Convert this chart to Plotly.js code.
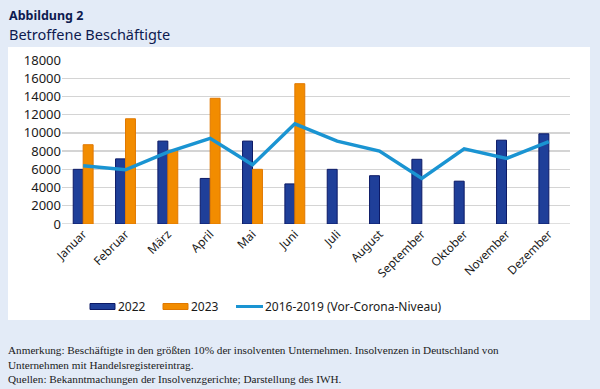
<!DOCTYPE html>
<html><head><meta charset="utf-8">
<script src="https://cdn.plot.ly/plotly-3.0.1.min.js"></script>
<style>body{margin:0;padding:0;background:#e3ebf7}#c{width:600px;height:389px}</style>
</head><body><div id="c"></div>
<script>
const months = ["Januar","Februar","März","April","Mai","Juni","Juli","August","September","Oktober","November","Dezember"];
const v2022 = [6000,7150,9100,5000,9100,4400,6000,5300,7100,4700,9200,9900];
const v2023 = [8700,11550,8100,13800,6000,15400,null,null,null,null,null,null];
const vBase = [6400,5950,7900,9400,6500,11000,9100,8000,5000,8250,7200,9050];
const yTicks = [0,2000,4000,6000,8000,10000,12000,14000,16000,18000];
const seriesNames = ["2022","2023","2016-2019 (Vor-Corona-Niveau)"];

const C22 = '#1f3f99', C23 = '#f28c00', CB = '#1a94d2';
const traces = [
  {type:'bar', name:seriesNames[0], x:months, y:v2022, marker:{color:C22, line:{color:'#0c1a66', width:1}}},
  {type:'bar', name:seriesNames[1], x:months, y:v2023, marker:{color:C23, line:{color:'#e07800', width:1}}},
  {type:'scatter', mode:'lines', name:seriesNames[2], x:months, y:vBase, line:{color:CB, width:3.5}}
];

// pixel -> paper helpers (plot area: x 62..570, y 60..224)
const px = p => (p-62)/508;
const py = p => (224-p)/164;

const font = {family:'Noto Sans, sans-serif', color:'#1a1a1a'};
const legFont = {size:12, family:'Noto Sans, sans-serif', color:'#1a1a1a'};
const noteFont = {size:11.2, color:'#1a1a1a', family:'Liberation Serif, serif'};
const ly = 306.5;
const layout = {
  width:600, height:389,
  paper_bgcolor:'#e3ebf7', plot_bgcolor:'rgba(0,0,0,0)',
  margin:{l:62, r:30, t:60, b:165},
  barmode:'group', bargap:0.53, bargroupgap:0,
  font:font,
  showlegend:false,
  xaxis:{tickangle:-45, tickfont:{size:11.8}, showgrid:false, showline:false, zeroline:false, ticks:''},
  yaxis:{range:[0,18000], tickvals:yTicks, ticktext:yTicks.map(String), tickfont:{size:13}, gridcolor:'#d4d4d4', gridwidth:1.3, zeroline:false, showline:false, ticks:'', ticklen:0},
  shapes:[
    {type:'rect', xref:'paper', yref:'paper', x0:px(8), x1:px(590), y0:py(320), y1:py(47), fillcolor:'#ffffff', line:{width:0}, layer:'below'},
    {type:'line', xref:'paper', yref:'y', x0:0, x1:1, y0:0, y1:0, line:{color:'#d4d4d4', width:1.3}, layer:'below'},
    {type:'rect', xref:'paper', yref:'paper', x0:px(90), x1:px(115), y0:py(ly+3), y1:py(ly-3), fillcolor:C22, line:{color:'#0c1a66', width:1}},
    {type:'rect', xref:'paper', yref:'paper', x0:px(163), x1:px(188), y0:py(ly+3), y1:py(ly-3), fillcolor:C23, line:{color:'#e07800', width:1}},
    {type:'line', xref:'paper', yref:'paper', x0:px(236), x1:px(263), y0:py(ly), y1:py(ly), line:{color:CB, width:3}}
  ],
  annotations:[
    {xref:'paper', yref:'paper', x:px(7), y:py(15), xanchor:'left', yanchor:'middle', showarrow:false, text:'<b>Abbildung 2</b>', font:{size:12.5, color:'#0d1a4f', family:'Noto Sans, sans-serif'}},
    {xref:'paper', yref:'paper', x:px(7), y:py(34), xanchor:'left', yanchor:'middle', showarrow:false, text:'Betroffene Beschäftigte', font:{size:14.5, color:'#0d1a4f', family:'Noto Sans, sans-serif'}},
    {xref:'paper', yref:'paper', x:px(116), y:py(ly), xanchor:'left', yanchor:'middle', showarrow:false, text:seriesNames[0], font:legFont},
    {xref:'paper', yref:'paper', x:px(189), y:py(ly), xanchor:'left', yanchor:'middle', showarrow:false, text:seriesNames[1], font:legFont},
    {xref:'paper', yref:'paper', x:px(263), y:py(ly), xanchor:'left', yanchor:'middle', showarrow:false, text:seriesNames[2], font:legFont},
    {xref:'paper', yref:'paper', x:px(6), y:py(350), xanchor:'left', yanchor:'middle', showarrow:false, align:'left', text:'Anmerkung: Beschäftigte in den größten 10% der insolventen Unternehmen. Insolvenzen in Deutschland von', font:noteFont},
    {xref:'paper', yref:'paper', x:px(6), y:py(365), xanchor:'left', yanchor:'middle', showarrow:false, align:'left', text:'Unternehmen mit Handelsregistereintrag.', font:noteFont},
    {xref:'paper', yref:'paper', x:px(6), y:py(378.5), xanchor:'left', yanchor:'middle', showarrow:false, align:'left', text:'Quellen: Bekanntmachungen der Insolvenzgerichte; Darstellung des IWH.', font:noteFont}
  ]
};
Plotly.newPlot('c', traces, layout, {displayModeBar:false, staticPlot:true});
</script></body></html>
